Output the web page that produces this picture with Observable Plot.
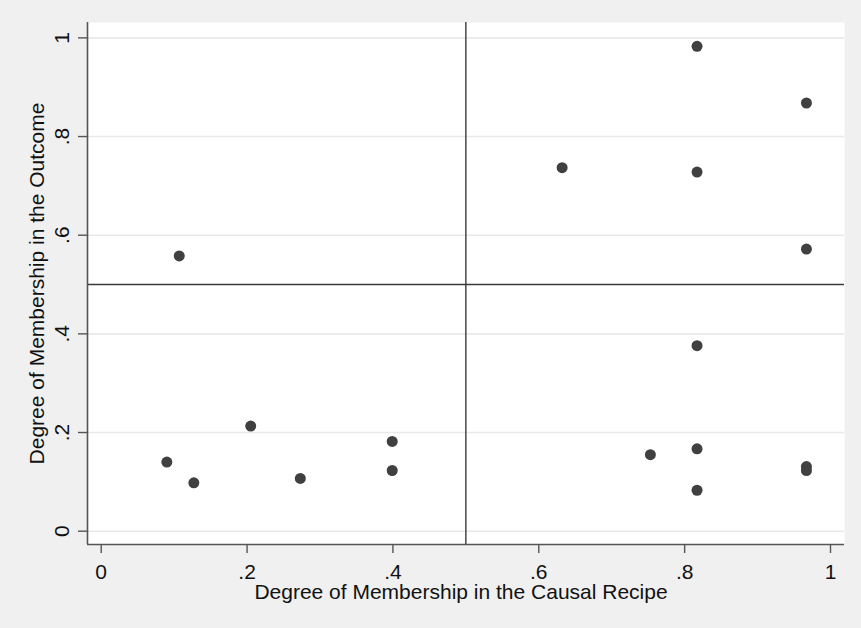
<!DOCTYPE html>
<html>
<head>
<meta charset="utf-8">
<script src="https://cdn.jsdelivr.net/npm/d3@7"></script>
<script src="https://cdn.jsdelivr.net/npm/@observablehq/plot@0.6"></script>
<style>
  html, body { margin: 0; padding: 0; background: #f0f0f0; }
  #chart svg { display: block; }
</style>
</head>
<body>
<div id="chart"></div>
<script>
// Data
const recipe = [0.817, 0.967, 0.632, 0.817, 0.967, 0.107, 0.817, 0.090, 0.127, 0.205, 0.273, 0.399, 0.399, 0.753, 0.817, 0.817, 0.967, 0.967];
const outcome = [0.983, 0.868, 0.737, 0.728, 0.572, 0.558, 0.376, 0.140, 0.098, 0.213, 0.107, 0.182, 0.123, 0.155, 0.167, 0.083, 0.131, 0.123];
const tickValues = [0, 0.2, 0.4, 0.6, 0.8, 1];
const tickLabels = ["0", ".2", ".4", ".6", ".8", "1"];
const xTitle = "Degree of Membership in the Causal Recipe";
const yTitle = "Degree of Membership in the Outcome";
const threshold = 0.5;
const xDomain = [-0.0188, 1.0192];
const yDomain = [-0.027, 1.0312];

const points = recipe.map((x, i) => ({x, y: outcome[i]}));
const labelOf = v => tickLabels[tickValues.indexOf(v)];
const font = "Liberation Sans, Arial, sans-serif";
const axisColor = "#555555";
const fs = 21;

const chart = Plot.plot({
  width: 861,
  height: 628,
  marginLeft: 87,
  marginRight: 17,
  marginTop: 22,
  marginBottom: 84,
  style: {background: "#f0f0f0", fontFamily: font},
  x: {domain: xDomain, axis: null},
  y: {domain: yDomain, axis: null},
  marks: [
    Plot.frame({fill: "white", stroke: "none"}),
    Plot.gridY(tickValues, {stroke: "#e9e9e9", strokeOpacity: 1, strokeWidth: 1.6}),
    Plot.ruleX([threshold], {stroke: "#3a3a3a", strokeWidth: 1.4}),
    Plot.ruleY([threshold], {stroke: "#3a3a3a", strokeWidth: 1.4}),
    Plot.ruleX([xDomain[0]], {stroke: axisColor, strokeWidth: 1.6}),
    Plot.ruleY([yDomain[0]], {stroke: axisColor, strokeWidth: 1.6}),
    Plot.axisX(tickValues, {tickSize: 9, tickPadding: 11, tickFormat: labelOf, fontSize: fs, stroke: axisColor, strokeWidth: 1.4, fill: "#111", label: null}),
    Plot.axisY(tickValues, {tickSize: 9, tickFormat: () => "", stroke: axisColor, strokeWidth: 1.4, label: null}),
    Plot.text(tickValues, {y: d => d, text: labelOf, frameAnchor: "left", dx: -25, rotate: -90, textAnchor: "middle", lineAnchor: "middle", fontSize: fs, fill: "#111"}),
    Plot.text([xTitle], {text: d => d, frameAnchor: "bottom", dx: -5, dy: 48, textAnchor: "middle", lineAnchor: "middle", fontSize: fs, fill: "#111"}),
    Plot.text([yTitle], {text: d => d, frameAnchor: "left", dx: -50, rotate: -90, textAnchor: "middle", lineAnchor: "middle", fontSize: fs, fill: "#111"}),
    Plot.dot(points, {x: "x", y: "y", r: 5.5, fill: "#404040", stroke: "none"})
  ]
});
document.getElementById("chart").append(chart);
</script>
</body>
</html>
